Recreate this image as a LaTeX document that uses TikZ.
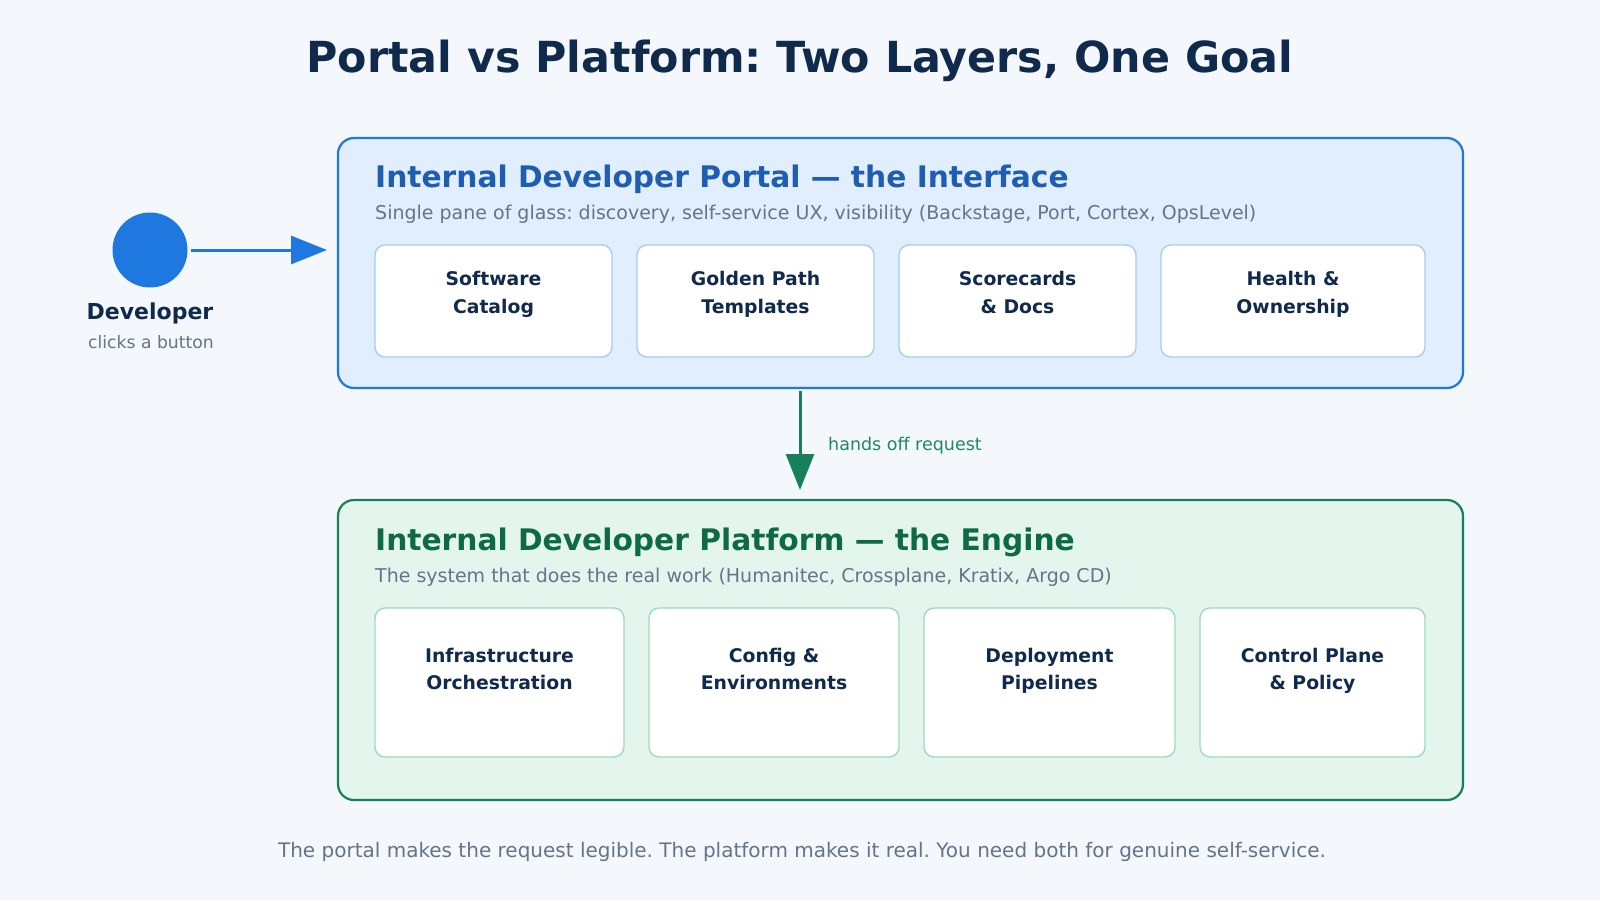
\documentclass[tikz,border=0pt]{standalone}
\usepackage{fontspec}
\setmainfont{DejaVu Sans}
\usepackage{tikz}
\usetikzlibrary{positioning,arrows.meta}
\frenchspacing

\definecolor{pagebg}{HTML}{F4F8FD}
\definecolor{ink}{HTML}{102A4C}
\definecolor{muted}{HTML}{64748B}
\definecolor{portalline}{HTML}{1F78E0}
\definecolor{portalfill}{HTML}{E1EEFD}
\definecolor{portalhead}{HTML}{1E5DB0}
\definecolor{portalcard}{HTML}{A8CCF2}
\definecolor{platline}{HTML}{178058}
\definecolor{platfill}{HTML}{E3F5EC}
\definecolor{plathead}{HTML}{0E6A45}
\definecolor{platcard}{HTML}{9DDBBF}
\definecolor{handoff}{HTML}{1F8A5E}

\newcommand{\fs}[2]{\fontsize{#1}{#2}\selectfont}

\begin{document}
\begin{tikzpicture}[x=1pt, y=-1pt, node distance=25pt,
  layer/.style={draw, rounded corners=16pt, line width=2.2pt, anchor=north west, inner sep=0pt, outer sep=0pt},
  card/.style={draw, fill=white, rounded corners=10pt, line width=1.4pt, anchor=north west, inner sep=0pt, outer sep=0pt},
  pcard/.style={card, draw=portalcard, minimum height=112pt},
  fcard/.style={card, draw=platcard, minimum height=149pt},
  cardtxt/.style={align=center, text=ink, font=\fs{18.8}{27.5}\bfseries, inner sep=0pt,
    execute at begin node=\rule{0pt}{14pt}, execute at end node=\rule[-5pt]{0pt}{5pt}},
  head/.style={anchor=base west, font=\fs{29.7}{36}\bfseries, inner sep=0pt},
  sub/.style={anchor=base west, text=muted, font=\fs{19}{23}, inner sep=0pt},
  arr/.style={-{Triangle[length=36pt, width=28pt]}, line width=3pt}]
\fill[pagebg] (0,0) rectangle (1600,900);

\node[anchor=base, text=ink, font=\fs{42.8}{50}\bfseries, inner sep=0pt] (title) at (800,72) {Portal vs Platform: Two Layers, One Goal};

% developer
\node[circle, fill=portalline, minimum size=75pt, inner sep=0pt] (dev) at (150,250) {};
\node[anchor=base, text=ink, font=\fs{22}{26}\bfseries, inner sep=0pt] (devname) at (150,319) {Developer};
\node[anchor=base, text=muted, font=\fs{17.2}{20}, inner sep=0pt] (devnote) at (151,348) {clicks a button};

% portal layer
\node[layer, draw=portalline, fill=portalfill, minimum width=1125pt, minimum height=250pt] (portal) at (338,138) {};
\node[head, text=portalhead] (ptitle) at (375,187) {Internal Developer Portal --- the Interface};
\node[sub] (psub) at (375,219) {Single pane of glass: discovery, self-service UX, visibility (Backstage, Port, Cortex, OpsLevel)};
\node[pcard, minimum width=237pt] (p1) at (375,245) {};
\node[pcard, minimum width=237pt, right=of p1] (p2) {};
\node[pcard, minimum width=237pt, right=of p2] (p3) {};
\node[pcard, minimum width=264pt, right=of p3] (p4) {};
\node[cardtxt] at ([yshift=-49.7pt]p1.north) {Software\\Catalog};
\node[cardtxt] at ([yshift=-49.7pt]p2.north) {Golden Path\\Templates};
\node[cardtxt] at ([yshift=-49.7pt]p3.north) {Scorecards\\\& Docs};
\node[cardtxt] at ([yshift=-49.7pt]p4.north) {Health \&\\Ownership};

% platform layer
\node[layer, draw=platline, fill=platfill, minimum width=1125pt, minimum height=300pt] (platform) at (338,500) {};
\node[head, text=plathead] (ftitle) at (375,550) {Internal Developer Platform --- the Engine};
\node[sub] (fsub) at (375,582) {The system that does the real work (Humanitec, Crossplane, Kratix, Argo CD)};
\node[fcard, minimum width=249pt] (f1) at (375,608) {};
\node[fcard, minimum width=250pt, right=of f1] (f2) {};
\node[fcard, minimum width=251pt, right=of f2] (f3) {};
\node[fcard, minimum width=225pt, right=of f3] (f4) {};
\node[cardtxt] at ([yshift=-63.3pt]f1.north) {Infrastructure\\Orchestration};
\node[cardtxt] at ([yshift=-63.3pt]f2.north) {Config \&\\Environments};
\node[cardtxt] at ([yshift=-63.3pt]f3.north) {Deployment\\Pipelines};
\node[cardtxt] at ([yshift=-63.3pt]f4.north) {Control Plane\\\& Policy};

% connectors
\draw[arr, portalline, shorten <=3pt, shorten >=11pt] (dev.east) -- (dev.east -| portal.west);
\coordinate (hand) at (800,440);
\draw[arr, platline, shorten <=3pt, shorten >=10pt] (portal.south -| hand) -- (platform.north -| hand);
\node[anchor=base west, text=handoff, font=\fs{17.5}{21}, inner sep=0pt] (handtxt) at (828,450) {hands off request};

\node[anchor=base, text=muted, font=\fs{20}{24}, inner sep=0pt] (foot) at (802,857) {The portal makes the request legible. The platform makes it real. You need both for genuine self-service.};
\end{tikzpicture}
\end{document}
